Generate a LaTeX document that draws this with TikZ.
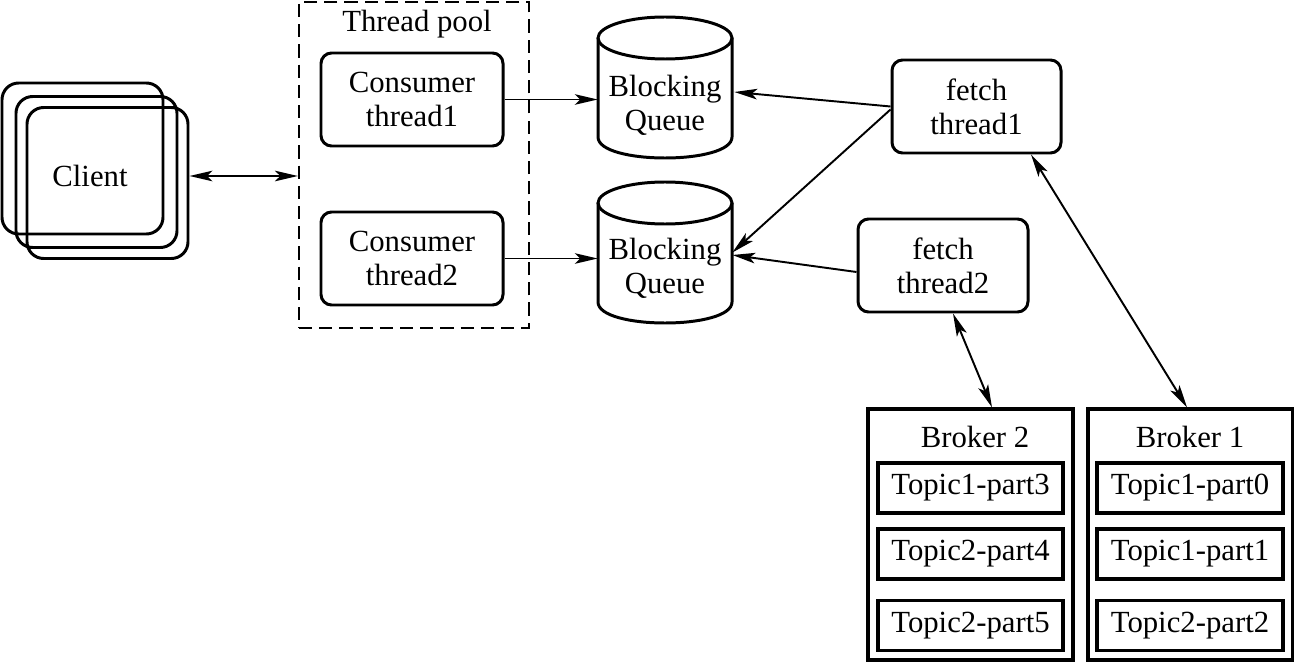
\documentclass[tikz,border=0pt]{standalone}
\usepackage{fontspec}
\setmainfont{Liberation Serif}
\usetikzlibrary{arrows.meta,calc}
\newcommand{\pxu}{0.02cm}
\begin{document}
\begin{tikzpicture}[x=0.02cm,y=-0.02cm,
  font=\fontsize{17.5}{19.5}\selectfont,
  box/.style={draw,line width=1.7pt,rounded corners=6pt,align=center,inner sep=0pt},
  clientbox/.style={draw,line width=1.7pt,rounded corners=9.5pt,minimum width=161*\pxu,minimum height=151*\pxu,inner sep=0pt},
  flat/.style={draw,line width=1.8pt,align=center,inner sep=0pt},
  plain/.style={align=center,inner sep=0pt},
  cyl/.style={line width=1.7pt},
  tip/.tip={Stealth[length=13pt,width=6pt,inset=3pt]},
  conn/.style={line width=1.1pt,-tip},
  biconn/.style={line width=1.1pt,tip-tip}]
\useasboundingbox (0,0) rectangle (1294,662);

% Client stack
\node[clientbox] (clA) at (82.5,158.5) {};
\node[clientbox] (clB) at (96.5,172) {};
\node[clientbox] (clC) at (107.5,183) {};
\node[plain] (client) at (90,176) {Client};

% Thread pool
\node[draw,line width=1.3pt,dash pattern=on 7.5pt off 4pt,minimum width=230*\pxu,minimum height=326*\pxu,inner sep=0pt] (pool) at (414,165) {};
\node[plain] (pooltitle) at (417,24) {Thread pool};
\node[box,minimum width=182*\pxu,minimum height=93*\pxu] (c1) at (412,99.5) {Consumer\\thread1};
\node[box,minimum width=182*\pxu,minimum height=93*\pxu] (c2) at (412,258.5) {Consumer\\thread2};

% Blocking queues (cylinders)
\node[minimum width=134*\pxu,minimum height=141*\pxu,inner sep=0pt] (q1) at (665,87.5) {};
\node[minimum width=134*\pxu,minimum height=141*\pxu,inner sep=0pt] (q2) at (665,252.5) {};
\draw[cyl] (598,38) -- (598,137) .. controls (598,165) and (732,165) .. (732,137) -- (732,38);
\draw[cyl] (665,38) ellipse [x radius=67, y radius=21];
\draw[cyl] (598,203) -- (598,302) .. controls (598,330) and (732,330) .. (732,302) -- (732,203);
\draw[cyl] (665,203) ellipse [x radius=67, y radius=21];
\node[plain] (q1t) at (665,105) {Blocking\\Queue};
\node[plain] (q2t) at (665,268) {Blocking\\Queue};

% Fetch threads
\node[box,minimum width=169*\pxu,minimum height=93*\pxu] (f1) at (976.5,106.5) {fetch\\thread1};
\node[box,minimum width=170*\pxu,minimum height=93*\pxu] (f2) at (943,265.5) {fetch\\thread2};

% Brokers
\node[flat,minimum width=205*\pxu,minimum height=251*\pxu] (b2) at (970.5,534.5) {};
\node[flat,minimum width=205*\pxu,minimum height=251*\pxu] (b1) at (1190.5,534.5) {};
\node[plain] (b2t) at (975,437) {Broker 2};
\node[plain] (b1t) at (1190,437) {Broker 1};
\node[flat,minimum width=185*\pxu,minimum height=50*\pxu] (p3) at (970.5,488) {Topic1-part3};
\node[flat,minimum width=185*\pxu,minimum height=50*\pxu] (p4) at (970.5,554) {Topic2-part4};
\node[flat,minimum width=185*\pxu,minimum height=50*\pxu] (p5) at (970.5,625.5) {Topic2-part5};
\node[flat,minimum width=186*\pxu,minimum height=50*\pxu] (p0) at (1190,488) {Topic1-part0};
\node[flat,minimum width=186*\pxu,minimum height=50*\pxu] (p1) at (1190,554) {Topic1-part1};
\node[flat,minimum width=186*\pxu,minimum height=50*\pxu] (p2) at (1190,625.5) {Topic2-part2};

% Connectors
\draw[biconn] (clC.east |- client) -- (pool.west |- client);
\draw[conn] (c1.east) -- (c1.east -| q1.west);
\draw[conn] (c2.east) -- (c2.east -| q2.west);
\draw[conn] (f1.west) -- ($(q1.east)+(2,4.5)$);
\draw[conn] ($(f1.west)+(0,3)$) -- (q2.east);
\draw[conn] ($(f2.west)+(0,6.5)$) -- ($(q2.east)+(0,2.5)$);
\draw[biconn] ($(f1.south)+(54.5,0)$) -- ($(b1.north)+(-3.5,0)$);
\draw[biconn] ($(f2.south)+(10,0)$) -- ($(b2.north)+(21.5,0)$);
\end{tikzpicture}
\end{document}
